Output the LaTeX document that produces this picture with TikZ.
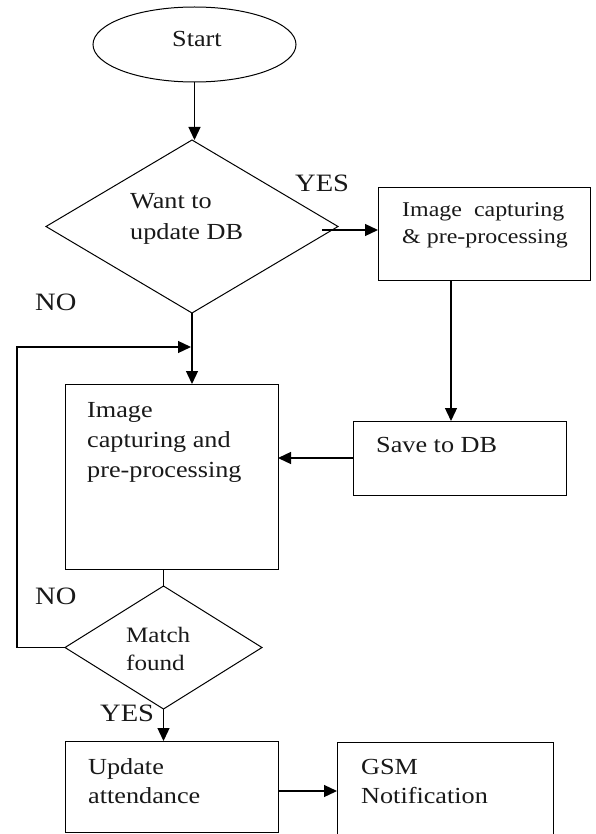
\documentclass[tikz,border=0pt]{standalone}
\usepackage{fontspec}
\setmainfont[FakeStretch=1.14]{Liberation Serif}
\usetikzlibrary{shapes.geometric,arrows.meta,calc}
\tikzset{
  shp/.style={draw=black, line width=1pt, inner sep=0pt, outer sep=0pt},
  boxn/.style={shp, rectangle},
  decis/.style={shp, diamond},
  arr/.style={line width=1.3pt, -{Triangle[length=13pt,width=12pt]}},
  lin/.style={line width=1.3pt},
  txt/.style={anchor=base west, align=left, inner sep=0pt, text=black!90},
  lbl/.style={anchor=base west, inner sep=0pt, text=black!90, font=\fontsize{25}{25}\selectfont},
}
\begin{document}
\begin{tikzpicture}[x=1pt,y=-1pt]
\path[use as bounding box] (0,0) rectangle (595,834);
\clip (0,0) rectangle (595,834);
\fill[white] (0,0) rectangle (595,834);

% shapes
\node[shp, ellipse, minimum width=203pt, minimum height=75pt] (start) at (194.5,44.5) {};
\node[decis, minimum width=292pt, minimum height=173pt] (d1) at (192,226.5) {};
\node[boxn, minimum width=212pt, minimum height=92pt] (box1) at (484,234) {};
\node[boxn, minimum width=213pt, minimum height=74pt] (save) at (459.5,458) {};
\node[boxn, minimum width=213pt, minimum height=185pt] (big) at (171.5,476.5) {};
\node[decis, minimum width=197pt, minimum height=123pt] (d2) at (163.5,647.5) {};
\node[boxn, minimum width=213pt, minimum height=91pt] (upd) at (171.5,786.5) {};
\node[boxn, minimum width=216pt, minimum height=118pt] (gsm) at (445,801) {};

% texts (anchor = baseline of the last line)
\node[txt, font=\fontsize{23}{23}\selectfont] (tstart) at (172,47) {Start};
\node[txt, font=\fontsize{23}{31}\selectfont] (td1) at (130,239) {Want to\\update DB};
\node[txt, font=\fontsize{21}{26}\selectfont] (tbox1) at (402,243) {Image\ \ capturing\\\& pre-processing};
\node[txt, font=\fontsize{23}{30}\selectfont] (tbig) at (87,477) {Image\\capturing and\\pre-processing};
\node[txt, font=\fontsize{23}{23}\selectfont] (tsave) at (376,452) {Save to DB};
\node[txt, font=\fontsize{22}{28}\selectfont] (td2) at (126,670) {Match\\found};
\node[txt, font=\fontsize{23}{29}\selectfont] (tupd) at (88,803) {Update\\attendance};
\node[txt, font=\fontsize{23}{29}\selectfont] (tgsm) at (361,803) {GSM\\Notification};

% labels
\node[lbl] (yes1) at (295,192) {YES};
\node[lbl] (no1) at (35,310) {NO};
\node[lbl] (no2) at (35,604) {NO};
\node[lbl] (yes2) at (100,721) {YES};

% helper coordinates
\coordinate (ys) at (322,230);
\coordinate (cx1) at (451,0);
\coordinate (lp) at (17,0);
\coordinate (tip) at (191,347);
\coordinate (cy2) at (0,791);

% connectors
\draw[arr] (start.south) -- (start.south |- d1.north);
\draw[arr] (ys) -- (ys -| box1.west);
\draw[arr] (cx1 |- box1.south) -- (cx1 |- save.north);
\draw[arr] (save.west) -- (save.west -| big.east);
\draw[arr] (d1.south) -- (d1.south |- big.north);
\draw[arr] (d2.west) -- (lp |- d2.west) -- (lp |- tip) -- (tip);
\draw[lin] (d2.north |- big.south) -- (d2.north);
\draw[arr] (d2.south) -- (d2.south |- upd.north);
\draw[arr] (upd.east |- cy2) -- (gsm.west |- cy2);
\end{tikzpicture}
\end{document}
